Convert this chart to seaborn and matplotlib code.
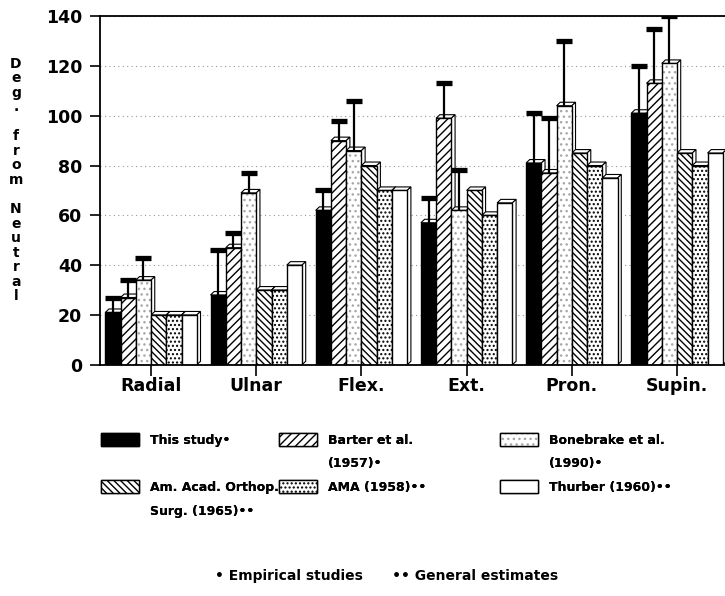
import matplotlib
matplotlib.use("Agg")
import matplotlib.pyplot as plt
from matplotlib.patches import Polygon, Patch
from matplotlib.colors import to_rgba
import pandas as pd
import seaborn as sns

# --- data ---
motions = ["Radial", "Ulnar", "Flex.", "Ext.", "Pron.", "Supin."]
studies = ["This study•", "Barter et al. (1957)•", "Bonebrake et al. (1990)•",
           "Am. Acad. Orthop. Surg. (1965)••", "AMA (1958)••", "Thurber (1960)••"]
# how each study name is broken over legend lines
legend_lines = [["This study•"], ["Barter et al.", "(1957)•"], ["Bonebrake et al.", "(1990)•"],
                ["Am. Acad. Orthop.", "Surg. (1965)••"], ["AMA (1958)••"], ["Thurber (1960)••"]]

this_study = [21, 28, 62, 57, 81, 101]
barter = [27, 47, 90, 99, 77, 113]
bonebrake = [34, 69, 86, 62, 104, 121]
aaos = [20, 30, 80, 70, 85, 85]
ama = [20, 30, 70, 60, 80, 80]
thurber = [20, 40, 70, 65, 75, 85]

# upward error bars, only for the empirical studies
this_study_sd = [6, 18, 8, 10, 20, 19]
barter_sd = [7, 6, 8, 14, 22, 22]
bonebrake_sd = [9, 8, 20, 16, 26, 19]

series = [this_study, barter, bonebrake, aaos, ama, thurber]
errors = [this_study_sd, barter_sd, bonebrake_sd]

rows = []
for name, vals in zip(studies, series):
    for m, v in zip(motions, vals):
        rows.append({"motion": m, "study": name, "deg": v})
df = pd.DataFrame(rows)

sns.set_style("white")
plt.rcParams["font.family"] = ["DejaVu Sans"]
plt.rcParams["font.weight"] = "bold"
for k in ["text.color", "xtick.color", "ytick.color", "axes.labelcolor"]:
    plt.rcParams[k] = "black"

fig = plt.figure(figsize=(7.25, 5.96), dpi=100)
ax = fig.add_axes([0.138, 0.388, 0.862, 0.585])

faces = ["black", "white", "white", "white", "white", "white"]
hatches = [None, "////", "...", "\\\\\\\\\\", "....", None]
hatch_cols = [None, "black", "#a8a8a8", "black", "black", None]

sns.barplot(data=df, x="motion", y="deg", hue="study", hue_order=studies,
            order=motions, palette=faces, width=0.87, gap=0,
            edgecolor="black", linewidth=1, saturation=1, ax=ax, legend=False)

# 3d-ish depth on every bar, taken from the drawn patches
dx, dy = 0.035, 1.4
for cont, h, hc in zip(ax.containers, hatches, hatch_cols):
    for p in cont.patches:
        p.set_zorder(2)
        if h:
            p.set_hatch(h)
            p._hatch_color = to_rgba(hc)
        x, w, top = p.get_x(), p.get_width(), p.get_height()
        topface = Polygon([(x, top), (x + dx, top + dy), (x + w + dx, top + dy), (x + w, top)],
                          closed=True, facecolor="white", edgecolor="black", lw=0.8, zorder=1.5)
        side = Polygon([(x + w, 0), (x + w, top), (x + w + dx, top + dy), (x + w + dx, dy)],
                       closed=True, facecolor="white", edgecolor="black", lw=0.8, zorder=1.5)
        ax.add_patch(topface)
        ax.add_patch(side)

# error bars (upward only) with heavy caps
for cont, vals, sd in zip(ax.containers[:3], series[:3], errors):
    xs = [p.get_x() + p.get_width() / 2 for p in cont.patches]
    tops = [v + s for v, s in zip(vals, sd)]
    ax.errorbar(xs, vals, yerr=[[0] * len(sd), sd], fmt="none", ecolor="black",
                elinewidth=1.6, capsize=0, zorder=3)
    ax.plot(xs, tops, ls="none", marker="_", ms=12, mew=3.8, color="black", zorder=3)

ax.set_ylim(0, 140)
ax.set_xlim(-0.485, 5.456)
ax.set_yticks(range(0, 141, 20))
ax.yaxis.grid(True, linestyle=(0, (1, 3)), color="#999999", lw=0.8, zorder=0)
ax.set_axisbelow(True)
ax.set_xlabel("")
ax.set_ylabel("")
ax.tick_params(axis="y", direction="out", length=7, width=1.2, labelsize=12.5, pad=6, left=True)
ax.tick_params(axis="x", direction="out", length=8, width=1.2, labelsize=12.5, pad=1, bottom=True)
for lab in ax.get_xticklabels() + ax.get_yticklabels():
    lab.set_fontweight("bold")
for s in ["left", "bottom", "top"]:
    ax.spines[s].set_color("black")
    ax.spines[s].set_linewidth(1.3)
ax.spines["right"].set_visible(False)

# stacked y label
ylab = "\n".join(list("Deg.") + [""] + list("from") + [""] + list("Neutral"))
fig.text(0.022, 1 - 180 / 596, ylab, ha="center", va="center", fontsize=10,
         fontweight="bold", linespacing=1.05)

# legend in three columns; wrapped names take extra rows with an empty handle
blank = Patch(facecolor="none", edgecolor="none")
cols = [[0, 3], [1, 4], [2, 5]]
col_x = [0.133, 0.378, 0.683]
for idx, cx in zip(cols, col_x):
    handles, labels = [], []
    for i in idx:
        lines = legend_lines[i] + [""] * (2 - len(legend_lines[i]))
        handles += [ax.containers[i], blank]
        labels += lines
    leg = fig.legend(handles, labels, loc="upper left", bbox_to_anchor=(cx, 1 - 428 / 596),
                     frameon=False, prop={"weight": "bold", "size": 9}, handlelength=3.0,
                     handleheight=1.25, handletextpad=0.9, labelspacing=0.78, borderaxespad=0)
    fig.add_artist(leg)

fig.text(0.533, 1 - 576 / 596, "• Empirical studies      •• General estimates",
         ha="center", va="center", fontsize=10, fontweight="bold")

fig.savefig("out.png", dpi=100)
